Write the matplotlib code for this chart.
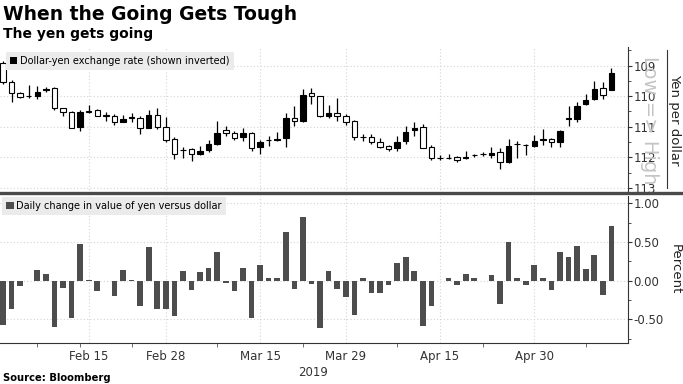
import numpy as np
import pandas as pd
import matplotlib
matplotlib.use('Agg')
import matplotlib.pyplot as plt
from matplotlib.patches import Patch
from matplotlib.lines import Line2D
from matplotlib.ticker import MultipleLocator, FormatStrFormatter

# business days shown on the chart
days = pd.bdate_range('2019-02-01', '2019-05-13')

# dollar-yen OHLC
opens = [108.92, 109.55, 109.91, 110.00, 109.98, 109.81, 109.74, 110.40, 110.51, 111.01,
         110.50, 110.45, 110.63, 110.64, 110.84, 110.70, 110.73, 111.04, 110.60, 111.01,
         111.40, 111.76, 111.74, 111.89, 111.75, 111.58, 111.11, 111.21, 111.34, 111.19,
         111.67, 111.45, 111.42, 111.38, 110.70, 110.81, 109.90, 110.00, 110.64, 110.54,
         110.64, 110.81, 111.33, 111.33, 111.49, 111.64, 111.71, 111.47, 111.12, 111.01,
         111.66, 112.02, 112.01, 111.99, 112.04, 111.93, 111.90, 111.93, 111.84, 112.17,
         111.58, 111.60, 111.62, 111.42, 111.39, 111.49, 110.74, 110.75, 110.26, 110.09,
         109.74, 109.79]
closes = [109.55, 109.91, 110.02, 110.01, 109.87, 109.77, 110.40, 110.53, 111.03, 110.53,
          110.52, 110.64, 110.64, 110.86, 110.75, 110.69, 111.05, 110.63, 111.01, 111.44,
          111.89, 111.77, 111.89, 111.80, 111.58, 111.20, 111.22, 111.36, 111.20, 111.71,
          111.49, 111.44, 111.41, 110.73, 110.81, 109.96, 110.00, 110.66, 110.55, 110.64,
          110.86, 111.33, 111.34, 111.49, 111.66, 111.74, 111.49, 111.16, 111.04, 111.69,
          112.04, 112.03, 112.02, 112.08, 111.98, 111.92, 111.89, 111.85, 112.17, 111.63,
          111.57, 111.59, 111.46, 111.41, 111.51, 111.14, 110.73, 110.31, 110.14, 109.78,
          109.96, 109.24]
highs = [109.60, 110.18, 110.05, 110.07, 110.10, 109.87, 110.46, 110.64, 111.05, 111.14,
         110.56, 110.66, 110.81, 110.95, 110.86, 110.84, 111.25, 111.05, 111.08, 111.51,
         112.07, 112.02, 112.11, 111.93, 111.84, 111.60, 111.30, 111.44, 111.47, 111.80,
         111.90, 111.62, 111.47, 111.68, 110.97, 110.86, 110.27, 110.68, 110.70, 110.81,
         110.95, 111.44, 111.47, 111.57, 111.69, 111.80, 111.78, 111.58, 111.30, 111.71,
         112.09, 112.09, 112.06, 112.15, 112.06, 111.98, 111.96, 112.02, 112.39, 112.20,
         112.02, 111.91, 111.66, 111.60, 111.66, 111.67, 110.97, 110.86, 110.29, 110.13,
         110.09, 109.81]
lows = [108.85, 109.47, 109.85, 109.63, 109.67, 109.69, 109.69, 110.38, 110.47, 110.45,
        110.29, 110.43, 110.51, 110.58, 110.62, 110.56, 110.64, 110.45, 110.38, 110.68,
        111.34, 111.66, 111.71, 111.62, 111.44, 110.81, 110.97, 111.14, 111.03, 111.17,
        111.44, 111.31, 111.16, 110.56, 110.32, 109.78, 109.74, 109.98, 110.29, 110.05,
        110.58, 110.78, 111.25, 111.25, 111.38, 111.60, 111.30, 110.99, 110.86, 110.92,
        111.60, 111.91, 111.88, 111.95, 111.80, 111.89, 111.84, 111.66, 111.71, 111.40,
        111.47, 111.55, 111.27, 111.08, 111.36, 111.11, 110.32, 110.20, 109.93, 109.49,
        109.55, 109.07]

# daily change in value of yen versus dollar, percent
chg = [-0.57, -0.36, -0.07, -0.005, 0.14, 0.08, -0.60, -0.09, -0.48, 0.48,
       0.01, -0.13, -0.005, -0.20, 0.14, 0.01, -0.33, 0.43, -0.37, -0.36,
       -0.45, 0.13, -0.12, 0.11, 0.17, 0.37, -0.03, -0.13, 0.17, -0.48,
       0.20, 0.04, 0.035, 0.63, -0.11, 0.82, -0.04, -0.61, 0.12, -0.11,
       -0.21, -0.44, 0.03, -0.16, -0.16, -0.06, 0.23, 0.30, 0.12, -0.59,
       -0.33, -0.005, 0.03, -0.05, 0.08, 0.04, -0.005, 0.07, -0.30, 0.50,
       0.04, -0.06, 0.20, 0.035, -0.12, 0.37, 0.31, 0.45, 0.15, 0.33,
       -0.19, 0.71]

tick_dates = ['2019-02-15', '2019-02-28', '2019-03-15', '2019-03-29', '2019-04-15', '2019-04-30']
tick_labels = ['Feb 15', 'Feb 28', 'Mar 15', 'Mar 29', 'Apr 15', 'Apr 30']
minor_dates = ['2019-02-07', '2019-02-14', '2019-02-22', '2019-03-08',
               '2019-03-22', '2019-04-08', '2019-04-22', '2019-05-08']

x = np.arange(len(days))
major_x = [days.get_loc(pd.Timestamp(d)) for d in tick_dates]
minor_x = [days.get_loc(pd.Timestamp(d)) for d in minor_dates]

W, H = 683, 384
fig = plt.figure(figsize=(W / 100, H / 100), dpi=100)

ax1 = fig.add_axes([0, 1 - 193 / H, 627.7 / W, 146 / H])
ax2 = fig.add_axes([0, 1 - 343 / H, 627.7 / W, 147 / H])

grid_kw = dict(linestyle=(0, (1, 2)), color='#d4d4d4', linewidth=0.8)

# ---- top: candles
o = np.array(opens)
c = np.array(closes)
up = c >= o
fills = ['white' if u else 'black' for u in up]
ax1.vlines(x, lows, highs, color='black', linewidth=0.9, zorder=2)
ax1.bar(x, c - o, bottom=o, width=0.64, color=fills, edgecolor='black',
        linewidth=0.8, zorder=3)
ax1.set_xlim(-0.35, 72.9)
ax1.set_ylim(113.17, 108.39)
ax1.yaxis.tick_right()
ax1.yaxis.set_major_locator(MultipleLocator(1))
ax1.yaxis.set_minor_locator(MultipleLocator(0.5))
ax1.set_xticks(major_x)
ax1.tick_params(axis='x', length=0, labelbottom=False)
ax1.grid(True, **grid_kw)
ax1.set_axisbelow(True)

leg1 = ax1.legend(handles=[Patch(facecolor='black', label='Dollar-yen exchange rate (shown inverted)')],
                  loc='upper left', bbox_to_anchor=(0.009, 0.965), borderaxespad=0,
                  frameon=True, fancybox=False, facecolor='#ebebeb', edgecolor='none',
                  framealpha=1, fontsize=7.0, handlelength=0.8, handleheight=0.8,
                  handletextpad=0.3, borderpad=0.4)
leg1.set_zorder(5)

# ---- bottom: daily change
ax2.bar(x, chg, width=0.66, color='#4d4d4d', zorder=3)
ax2.set_xlim(-0.35, 72.9)
ax2.set_ylim(-0.805, 1.094)
ax2.yaxis.tick_right()
ax2.yaxis.set_major_locator(MultipleLocator(0.5))
ax2.yaxis.set_minor_locator(MultipleLocator(0.25))
ax2.yaxis.set_major_formatter(FormatStrFormatter('%.2f'))
ax2.set_xticks(major_x)
ax2.set_xticklabels(tick_labels)
ax2.set_xticks(minor_x, minor=True)
ax2.tick_params(axis='x', which='major', length=0, pad=5)
ax2.tick_params(axis='x', which='minor', length=3, direction='out', color='#555555')
ax2.grid(True, which='major', **grid_kw)
ax2.set_axisbelow(True)

leg2 = ax2.legend(handles=[Patch(facecolor='#4d4d4d', label='Daily change in value of yen versus dollar')],
                  loc='upper left', bbox_to_anchor=(0.003, 0.993), borderaxespad=0,
                  frameon=True, fancybox=False, facecolor='#ebebeb', edgecolor='none',
                  framealpha=1, fontsize=7.0, handlelength=0.8, handleheight=0.8,
                  handletextpad=0.3, borderpad=0.4)
leg2.set_zorder(5)

for ax in (ax1, ax2):
    for s in ('left', 'top'):
        ax.spines[s].set_visible(False)
    ax.spines['right'].set_color('#333333')
    ax.spines['right'].set_linewidth(0.8)
    ax.tick_params(axis='y', which='major', direction='out', length=3, pad=1,
                   labelsize=8.5, colors='#333333')
    ax.tick_params(axis='y', which='minor', direction='out', length=2, colors='#333333')
    ax.tick_params(axis='x', labelsize=8.5, colors='#333333')
ax1.spines['bottom'].set_visible(False)
ax2.spines['bottom'].set_color('#333333')

# separator between panels
fig.add_artist(Line2D([0, 1], [1 - 193.3 / H] * 2, color='#4a4a4a', linewidth=2.4))

# right side labels
fig.text(649 / W, 1 - 120 / H, 'Low => High', rotation=270, ha='center', va='center',
         fontsize=14, color='#c4c4c4', zorder=0)
fig.add_artist(Line2D([667 / W] * 2, [1 - 50 / H, 1 - 188 / H], color='#333333', linewidth=0.8))
fig.text(675 / W, 1 - 120 / H, 'Yen per dollar', rotation=270, ha='center', va='center',
         fontsize=9.5, color='#222222')
fig.text(675 / W, 1 - 269 / H, 'Percent', rotation=270, ha='center', va='center',
         fontsize=9.5, color='#222222')

# titles and notes
fig.text(3 / W, 1 - 14 / H, 'When the Going Gets Tough', fontsize=13.5, fontweight='bold',
         ha='left', va='center')
fig.text(3 / W, 1 - 34 / H, 'The yen gets going', fontsize=10, fontweight='bold',
         ha='left', va='center')
fig.text(313 / W, 1 - 372 / H, '2019', fontsize=8.5, ha='center', va='center', color='#333333')
fig.text(3 / W, 1 - 378 / H, 'Source: Bloomberg', fontsize=7.2, fontweight='bold',
         ha='left', va='center')

fig.savefig('out.png', dpi=100)
